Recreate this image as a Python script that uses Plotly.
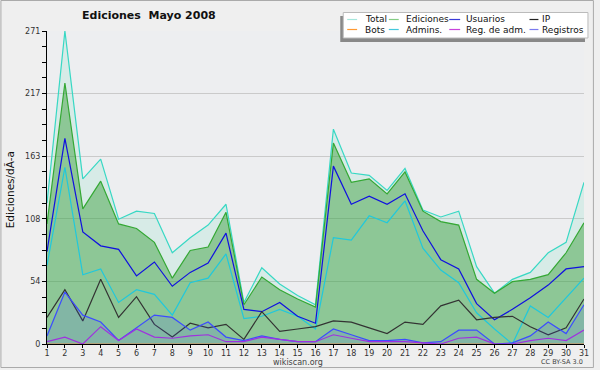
import plotly.graph_objects as go

days = list(range(1, 32))
total = [122, 271, 143, 160, 108, 115, 113, 79, 92, 103, 121, 36, 66, 52, 42, 34,
         186, 148, 146, 133, 152, 116, 110, 115, 67, 44, 56, 62, 79, 88, 140]
ediciones = [104, 226, 117, 141, 104, 100, 88, 57, 81, 84, 114, 34, 58, 47, 39, 32,
             174, 140, 143, 130, 149, 115, 106, 103, 56, 44, 54, 56, 60, 79, 105]
usuarios = [80, 178, 97, 85, 82, 59, 71, 50, 62, 70, 96, 30, 28, 36, 24, 18,
            154, 121, 128, 121, 130, 98, 73, 65, 35, 21, 30, 40, 51, 65, 67]
ip = [23, 47, 20, 56, 23, 41, 17, 6, 18, 14, 17, 4, 28, 11, 13, 15,
      20, 19, 14, 9, 19, 17, 33, 38, 21, 23, 24, 15, 8, 14, 39]
bots = [0] * 31
admins = [68, 153, 60, 65, 36, 47, 43, 25, 53, 57, 78, 22, 24, 30, 24, 13,
          92, 90, 111, 105, 124, 83, 64, 53, 27, 13, 0, 33, 23, 40, 57]
reg_adm = [2, 6, 0, 15, 3, 13, 6, 5, 7, 8, 2, 2, 6, 4, 2, 2,
           8, 5, 2, 2, 2, 1, 0, 5, 6, 0, 0, 3, 5, 3, 12]
registros = [7, 45, 25, 19, 3, 14, 25, 23, 12, 19, 6, 3, 7, 4, 2, 2,
             13, 8, 3, 3, 4, 1, 2, 12, 12, 0, 1, 7, 19, 9, 34]

y_max = 271
y_tickvals = [0, 54.2, 108.4, 162.6, 216.8, 271]
y_ticktext = ["0", "54", "108", "163", "217", "271"]
y_minor = [y_max * k / 20 for k in range(21)]

legend_names = ["Total", "Ediciones", "Usuarios", "IP", "Bots", "Admins.", "Reg. de adm.", "Registros"]
legend_colors = ["#a6e6dc", "#84cc84", "#3a3ad8", "#222222", "#ff9a33", "#44c8dc", "#c844dc", "#7a7aee"]

W, H = 600, 370
L, R, T, B = 47, 11, 31, 26
PW, PH = W - L - R, H - T - B


def px(x):
    return (x - L) / PW


def py(y):
    return (H - B - y) / PH


FONT = "DejaVu Sans"

fig = go.Figure()


def add(y, name, color, fill=None, fillcolor=None, width=1.2):
    fig.add_trace(go.Scatter(x=days, y=y, name=name, mode="lines",
                             line=dict(color=color, width=width),
                             fill=fill, fillcolor=fillcolor, showlegend=False,
                             hoverinfo="x+y+name"))


add(total, "Total", "#38d8c4", "tozeroy", "rgba(100,225,185,0.16)")
add(ediciones, "Ediciones", "#34a834", "tozeroy", "rgba(50,155,50,0.45)")
add(bots, "Bots", "#ff9933")
add(admins, "Admins.", "#20c8dc")
add(usuarios, "Usuarios", "#1010e0")
add(ip, "IP", "#333333")
add(registros, "Registros", "#3c4cff", "tozeroy", "rgba(70,90,255,0.15)")
add(reg_adm, "Reg. de adm.", "#a030e0")

shapes = []
annotations = []

# outer border
shapes.append(dict(type="rect", xref="paper", yref="paper", x0=px(0.5), x1=px(598.5),
                   y0=py(0.5), y1=py(367.5), line=dict(color="#aaaaaa", width=1),
                   fillcolor="rgba(0,0,0,0)", layer="below"))

# legend shadow and box
shapes.append(dict(type="rect", xref="paper", yref="paper", x0=px(343), x1=px(590),
                   y0=py(16), y1=py(42), line=dict(width=0), fillcolor="#888888"))
shapes.append(dict(type="rect", xref="paper", yref="paper", x0=px(346), x1=px(593),
                   y0=py(12.5), y1=py(38), line=dict(color="#bbbbbb", width=1),
                   fillcolor="#ffffff"))

col_sw = [350, 392, 453, 534]
sw_len = [10, 10, 11, 9]
col_tx = [366, 407, 468, 545]
row_y = [19.5, 29.5]
for i, (name, col) in enumerate(zip(legend_names, legend_colors)):
    r, c = divmod(i, 4)
    shapes.append(dict(type="line", xref="paper", yref="paper",
                       x0=px(col_sw[c]), x1=px(col_sw[c] + sw_len[c]),
                       y0=py(row_y[r]), y1=py(row_y[r]),
                       line=dict(color=col, width=1.2)))
    annotations.append(dict(text=name, xref="paper", yref="paper", x=px(col_tx[c]),
                            y=py(row_y[r]), xanchor="left", yanchor="middle",
                            showarrow=False, font=dict(family=FONT, size=9, color="#111111")))

annotations.append(dict(text="<b>Ediciones&nbsp; Mayo 2008</b>", xref="paper", yref="paper",
                        x=px(150), y=py(15), xanchor="center", yanchor="middle",
                        showarrow=False, font=dict(family=FONT, size=11, color="#111111")))
annotations.append(dict(text="Ediciones/dÃ-a", xref="paper", yref="paper",
                        x=px(10), y=py(190), xanchor="center", yanchor="middle",
                        textangle=-90, showarrow=False,
                        font=dict(family=FONT, size=10.5, color="#111111")))
annotations.append(dict(text="wikiscan.org", xref="paper", yref="paper",
                        x=px(300), y=py(362.5), xanchor="center", yanchor="middle",
                        showarrow=False, font=dict(family=FONT, size=8, color="#444444")))
annotations.append(dict(text="CC BY-SA 3.0", xref="paper", yref="paper",
                        x=px(590), y=py(362), xanchor="right", yanchor="middle",
                        showarrow=False, font=dict(family=FONT, size=6.5, color="#444444")))

fig.update_layout(
    width=W, height=H,
    margin=dict(l=L, r=R, t=T, b=B, pad=0),
    paper_bgcolor="#efefef",
    plot_bgcolor="#edeef0",
    showlegend=False,
    shapes=shapes,
    annotations=annotations,
    font=dict(family=FONT, size=8, color="#333333"),
)
fig.update_xaxes(range=[1, 31], tickvals=days, ticks="outside", ticklen=3,
                 ticklabelstandoff=-2,
                 tickcolor="#000000", showline=True, linecolor="#000000", linewidth=1,
                 showgrid=False, zeroline=False, tickfont=dict(family=FONT, size=8, color="#333333"))
fig.update_yaxes(range=[0, y_max], tickvals=y_tickvals, ticktext=y_ticktext,
                 ticks="outside", ticklen=4, tickcolor="#000000", showline=True,
                 linecolor="#000000", linewidth=1, showgrid=True, gridcolor="#cacaca",
                 gridwidth=1, zeroline=False,
                 minor=dict(tickvals=y_minor, ticks="outside", ticklen=4, tickcolor="#000000",
                            showgrid=False),
                 tickfont=dict(family=FONT, size=8, color="#333333"))

post = ("var d=document.documentElement, b=document.body;"
        "d.style.margin='0';d.style.padding='0';d.style.overflow='hidden';"
        "b.style.margin='0';b.style.padding='0';b.style.overflow='hidden';")
fig.write_html("out.html", post_script=post, config={"displayModeBar": False})
